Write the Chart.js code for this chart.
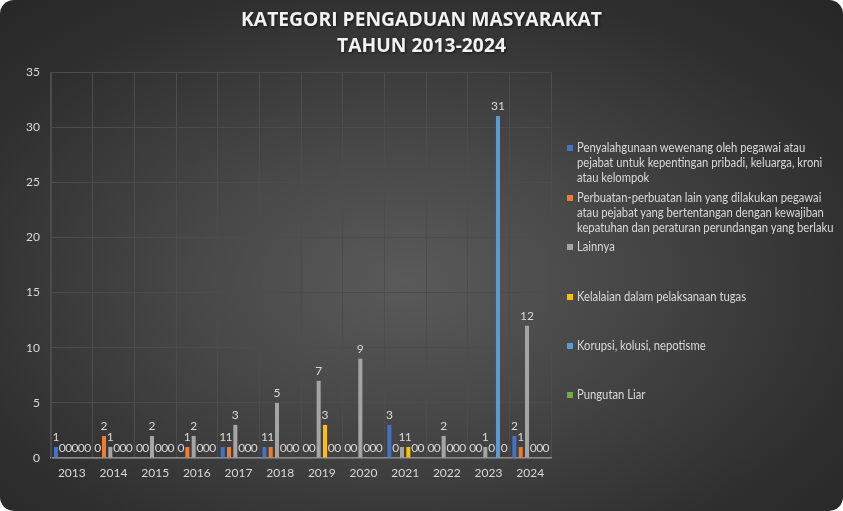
<!DOCTYPE html>
<html>
<head>
<meta charset="utf-8">
<script src="https://cdn.jsdelivr.net/npm/chart.js@4.4.1/dist/chart.umd.min.js"></script>
<style>
  html, body { margin: 0; padding: 0; background: #ffffff; }
  #wrap {
    position: relative; width: 843px; height: 511px; border-radius: 14px; overflow: hidden;
    background: radial-gradient(ellipse farthest-corner at 48% 55%, #5a5a5a 0%, #474747 35%, #2f2f2f 75%, #262626 100%);
  }
  canvas { position: absolute; left: 0; top: 0; }
  #legend { position: absolute; left: 567px; top: 0; font-family: Lato, sans-serif; font-size: 12.5px; color: #d9d9d9; }
  .item { position: absolute; left: 0; white-space: nowrap; }
  .sw { position: absolute; left: 0; top: 5px; width: 6px; height: 6px; }
  .txt { position: absolute; left: 10px; top: 0; line-height: 15px; transform: scaleX(0.90); transform-origin: 0 0; }
</style>
</head>
<body>
<div id="wrap">
  <canvas id="c" width="843" height="511"></canvas>
  <div id="legend"></div>
</div>
<script>
const years = ["2013","2014","2015","2016","2017","2018","2019","2020","2021","2022","2023","2024"];
const titleLines = ["KATEGORI PENGADUAN MASYARAKAT", "TAHUN 2013-2024"];
const seriesNames = [
  ["Penyalahgunaan wewenang oleh pegawai atau", "pejabat untuk kepentingan pribadi, keluarga, kroni", "atau kelompok"],
  ["Perbuatan-perbuatan lain yang dilakukan pegawai", "atau pejabat yang bertentangan dengan kewajiban", "kepatuhan dan peraturan perundangan yang berlaku"],
  ["Lainnya"],
  ["Kelalaian dalam pelaksanaan tugas"],
  ["Korupsi, kolusi, nepotisme"],
  ["Pungutan Liar"]
];
const penyalahgunaan = [1, 0, 0, 0, 1, 1, 0, 0, 3, 0, 0, 2];
const perbuatanLain  = [0, 2, 0, 1, 1, 1, 0, 0, 0, 0, 0, 1];
const lainnya        = [0, 1, 2, 2, 3, 5, 7, 9, 1, 2, 1, 12];
const kelalaian      = [0, 0, 0, 0, 0, 0, 3, 0, 1, 0, 0, 0];
const kkn            = [0, 0, 0, 0, 0, 0, 0, 0, 0, 0, 31, 0];
const pungli         = [0, 0, 0, 0, 0, 0, 0, 0, 0, 0, 0, 0];
const yTicks = [0, 5, 10, 15, 20, 25, 30, 35];
const colors = ["#4472C4", "#ED7D31", "#A5A5A5", "#FFC000", "#5B9BD5", "#70AD47"];
const allSeries = [penyalahgunaan, perbuatanLain, lainnya, kelalaian, kkn, pungli];

const labelPlugin = {
  id: 'valueLabels',
  afterDatasetsDraw(chart) {
    const ctx = chart.ctx;
    ctx.save();
    ctx.font = '12px Lato, sans-serif';
    ctx.fillStyle = '#d9d9d9';
    ctx.textAlign = 'center';
    ctx.textBaseline = 'bottom';
    chart.data.datasets.forEach((ds, i) => {
      const meta = chart.getDatasetMeta(i);
      meta.data.forEach((bar, j) => {
        ctx.fillText(String(ds.data[j]), bar.x, bar.y - 4);
      });
    });
    ctx.restore();
  }
};

const titlePlugin = {
  id: 'centerTitle',
  afterDraw(chart) {
    const ctx = chart.ctx;
    ctx.save();
    ctx.font = 'bold 19.3px "Open Sans", sans-serif';
    ctx.textAlign = 'center';
    ctx.textBaseline = 'middle';
    ctx.shadowColor = 'rgba(0,0,0,0.6)';
    ctx.shadowBlur = 3;
    ctx.shadowOffsetX = 1;
    ctx.shadowOffsetY = 1;
    ctx.fillStyle = '#f2f2f2';
    ctx.fillText(titleLines[0], chart.width / 2, 21);
    ctx.fillText(titleLines[1], chart.width / 2, 47);
    ctx.restore();
  }
};

new Chart(document.getElementById('c'), {
  type: 'bar',
  data: {
    labels: years,
    datasets: allSeries.map((d, i) => ({
      label: seriesNames[i].join(' '),
      data: d,
      backgroundColor: colors[i],
      borderWidth: 0,
      categoryPercentage: 0.91,
      barPercentage: 0.64
    }))
  },
  options: {
    responsive: false,
    animation: false,
    layout: { padding: { left: 0, right: 292, top: 72, bottom: 0 } },
    plugins: {
      legend: { display: false },
      tooltip: { enabled: false },
      title: { display: false }
    },
    scales: {
      x: {
        grid: { color: '#4c4c4c', drawTicks: false, offset: true },
        border: { color: '#8a8a8a', width: 1.5 },
        ticks: { color: '#d9d9d9', font: { family: 'Lato, sans-serif', size: 12 }, padding: 8, maxRotation: 0 },
        afterFit: s => { s.height = 53; }
      },
      y: {
        min: 0, max: 35,
        afterBuildTicks: s => { s.ticks = yTicks.map(v => ({ value: v })); },
        grid: { color: '#4c4c4c', drawTicks: false },
        border: { color: '#4c4c4c' },
        ticks: { color: '#d9d9d9', font: { family: 'Lato, sans-serif', size: 12 }, padding: 11 },
        afterFit: s => { s.width = 51; }
      }
    }
  },
  plugins: [labelPlugin, titlePlugin]
});

const legendTops = [140, 190, 239, 289, 338, 387];
const lg = document.getElementById('legend');
seriesNames.forEach((lines, i) => {
  const it = document.createElement('div');
  it.className = 'item';
  it.style.top = legendTops[i] + 'px';
  const sw = document.createElement('div');
  sw.className = 'sw';
  sw.style.background = colors[i];
  const tx = document.createElement('div');
  tx.className = 'txt';
  tx.innerHTML = lines.join('<br>');
  it.appendChild(sw); it.appendChild(tx);
  lg.appendChild(it);
});
</script>
</body>
</html>
